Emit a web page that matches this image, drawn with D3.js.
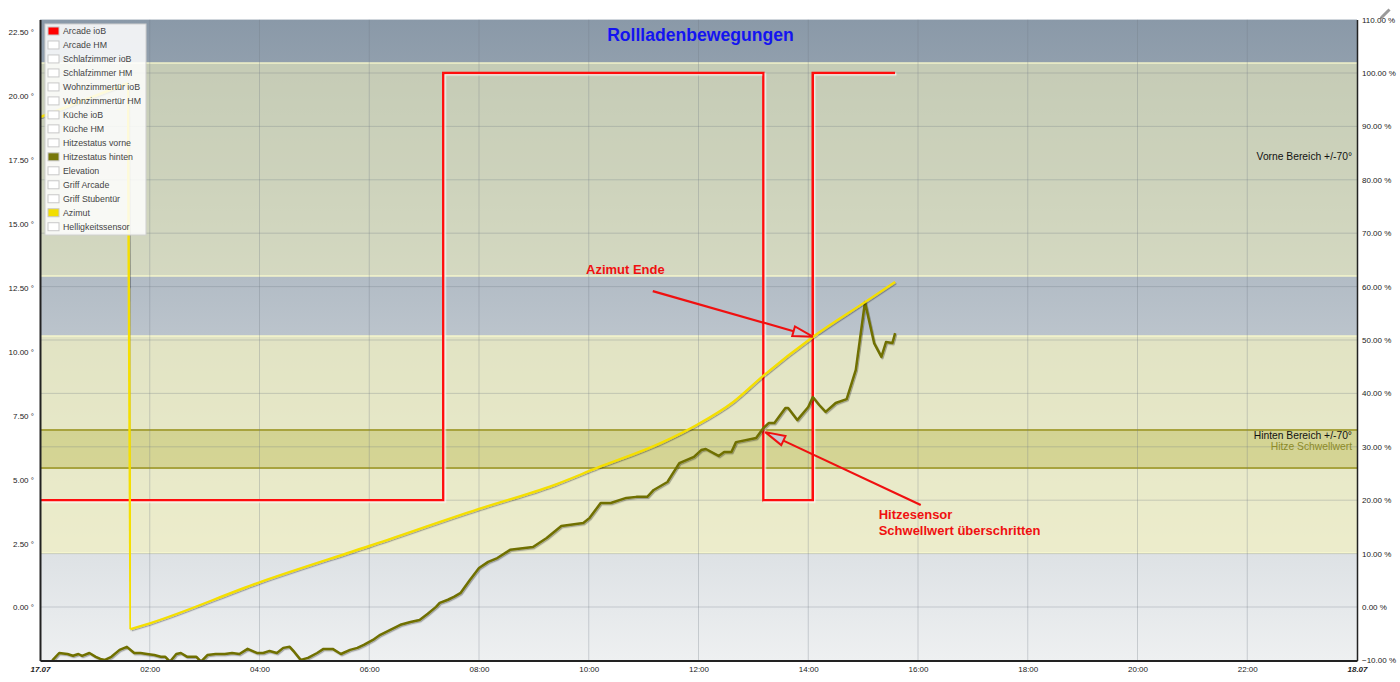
<!DOCTYPE html>
<html><head><meta charset="utf-8">
<script src="https://cdn.jsdelivr.net/npm/d3@7"></script>
<style>
body{margin:0;background:#fff;}
svg{display:block;font-family:"Liberation Sans",Arial,sans-serif;}
</style></head><body>
<svg id="chart" width="1400" height="682"></svg>
<script>
// ---------------- DATA ----------------
const chartTitle = "Rollladenbewegungen";
const leftTicks = [0, 2.5, 5, 7.5, 10, 12.5, 15, 17.5, 20, 22.5];
const rightTicks = [-10, 0, 10, 20, 30, 40, 50, 60, 70, 80, 90, 100, 110];
const xTickHours = [0, 2, 4, 6, 8, 10, 12, 14, 16, 18, 20, 22, 24];
const xTickLabels = ["17.07", "02:00", "04:00", "06:00", "08:00", "10:00", "12:00", "14:00", "16:00", "18:00", "20:00", "22:00", "18.07"];

const legendLabels = ["Arcade ioB", "Arcade HM", "Schlafzimmer ioB", "Schlafzimmer HM", "Wohnzimmertür ioB", "Wohnzimmertür HM", "Küche ioB", "Küche HM", "Hitzestatus vorne", "Hitzestatus hinten", "Elevation", "Griff Arcade", "Griff Stubentür", "Azimut", "Helligkeitssensor"];
const legendColors = ["#ff0000", null, null, null, null, null, null, null, null, "#77770a", null, null, null, "#f2de00", null];

// Arcade ioB (right axis, %), step after
const arcadeTimes = ["00:00", "07:21", "13:11", "14:05", "15:35"];
const arcadeValues = [20, 100, 20, 100, 100];

// Azimut (left axis units)
const azimutTimes = ["00:00", "01:36", "01:39", "02:00", "04:00", "06:00", "08:00", "09:22", "10:09", "11:19", "11:58", "12:38", "13:11", "14:05", "15:02", "15:35"];
const azimutValues = [19.16, 20.49, -0.85, -0.62, 0.98, 2.40, 3.85, 4.78, 5.45, 6.43, 7.13, 8.03, 9.06, 10.57, 11.93, 12.72];

// Hitzestatus hinten (left axis, °)
const hitzeTimes = ["00:05","00:14","00:21","00:30","00:36","00:42","00:46","00:54","01:01","01:06","01:11","01:18","01:27","01:35","01:43","01:50","01:57","02:05","02:12","02:17","02:22","02:29","02:34","02:41","02:51","02:56","03:03","03:12","03:22","03:30","03:38","03:47","03:57","04:04","04:11","04:19","04:26","04:33","04:38","04:45","04:53","05:03","05:10","05:20","05:29","05:39","05:47","05:54","06:04","06:12","06:23","06:34","06:45","06:55","07:04","07:13","07:17","07:26","07:33","07:40","07:50","08:00","08:10","08:20","08:34","08:59","09:14","09:22","09:30","09:54","10:01","10:13","10:24","10:41","10:52","11:04","11:11","11:26","11:39","11:55","12:03","12:08","12:22","12:28","12:36","12:41","13:03","13:11","13:17","13:23","13:35","13:38","13:48","14:00","14:05","14:12","14:19","14:30","14:42","14:52","15:02","15:12","15:20","15:25","15:32","15:35"];
const hitzeValues = [-2.5,-2.05,-1.78,-1.82,-1.89,-1.82,-1.89,-1.78,-1.93,-2.01,-2.05,-1.93,-1.66,-1.54,-1.78,-1.78,-1.82,-1.86,-1.93,-1.93,-2.12,-1.82,-1.78,-1.93,-1.93,-2.12,-1.86,-1.82,-1.82,-1.78,-1.82,-1.62,-1.78,-1.78,-1.70,-1.78,-1.58,-1.54,-1.74,-2.05,-1.97,-1.78,-1.62,-1.62,-1.82,-1.66,-1.58,-1.46,-1.27,-1.07,-0.88,-0.68,-0.57,-0.49,-0.25,0.02,0.18,0.30,0.42,0.57,1.07,1.54,1.78,1.93,2.25,2.36,2.71,2.95,3.18,3.30,3.50,4.08,4.08,4.28,4.32,4.32,4.59,4.90,5.64,5.88,6.15,6.19,5.92,6.07,6.07,6.46,6.62,7.01,7.21,7.21,7.79,7.79,7.32,7.83,8.22,7.91,7.64,7.99,8.14,9.28,11.93,10.33,9.79,10.37,10.33,10.72];

// Background bands (left axis units)
const bandNames = ["Vorne Bereich +/-70°", "Hinten Bereich +/-70°", "Hitze Schwellwert"];
const bandLows = [12.95, 2.13, 5.45];
const bandHighs = [21.27, 10.61, 6.93];

// Annotations (time, left-axis value)
const annoTexts = [["Azimut Ende"], ["Hitzesensor", "Schwellwert überschritten"]];
const annoTextAt = [["09:57", 13.02], ["15:17", 3.44]];
const annoTail = [["11:10", 12.36], ["16:03", 4.0]];
const annoTip = [["14:05", 10.58], ["13:13", 6.85]];

// ---------------- CHART ----------------
const M = {left: 40, right: 1357, top: 19.6, bottom: 660.4};
const svg = d3.select("#chart");
const base = new Date(2024, 6, 17);
const pt = s => { const [h, m] = s.split(":").map(Number); return new Date(base.getTime() + (h * 60 + m) * 60000); };
const x = d3.scaleTime().domain([base, new Date(2024, 6, 18)]).range([M.left, M.right]);
const yL = d3.scaleLinear().domain([-2.07, 22.97]).range([M.bottom, M.top]);
const yR = d3.scaleLinear().domain([-10, 110]).range([M.bottom, M.top]);

const defs = svg.append("defs");
const grad = defs.append("linearGradient").attr("id", "bg").attr("x1", 0).attr("y1", 0).attr("x2", 0).attr("y2", 1);
grad.append("stop").attr("offset", "0%").attr("stop-color", "#8a99a8");
grad.append("stop").attr("offset", "100%").attr("stop-color", "#eef0f1");
defs.append("clipPath").attr("id", "clip").append("rect")
  .attr("x", M.left).attr("y", M.top).attr("width", M.right - M.left).attr("height", M.bottom - M.top);
const fDark = defs.append("filter").attr("id", "shDark").attr("x", "-5%").attr("y", "-5%").attr("width", "110%").attr("height", "110%");
fDark.append("feDropShadow").attr("dx", 1).attr("dy", 1.2).attr("stdDeviation", 0.6).attr("flood-color", "#000").attr("flood-opacity", 0.3);
const fLight = defs.append("filter").attr("id", "shLight").attr("x", "-5%").attr("y", "-5%").attr("width", "110%").attr("height", "110%");
fLight.append("feDropShadow").attr("dx", 1.3).attr("dy", 1.3).attr("stdDeviation", 0.4).attr("flood-color", "#fff").attr("flood-opacity", 0.75);

// plot background
svg.append("rect").attr("x", M.left).attr("y", M.top).attr("width", M.right - M.left).attr("height", M.bottom - M.top).attr("fill", "url(#bg)");

// bands
const bandFills = ["rgba(240,240,190,0.55)", "rgba(243,241,192,0.68)", "rgba(170,165,30,0.30)"];
const bandEdges = ["rgba(250,250,205,0.9)", "rgba(250,250,205,0.9)", "#a8a33e"];
const gb = svg.append("g").attr("clip-path", "url(#clip)");
bandNames.forEach((n, i) => {
  gb.append("rect").attr("x", M.left).attr("width", M.right - M.left)
    .attr("y", yL(bandHighs[i])).attr("height", yL(bandLows[i]) - yL(bandHighs[i]))
    .attr("fill", bandFills[i]);
});

// grid
const gg = svg.append("g").attr("clip-path", "url(#clip)");
xTickHours.slice(1, -1).forEach(h => {
  const xx = x(new Date(base.getTime() + h * 3600000));
  gg.append("line").attr("x1", xx).attr("x2", xx).attr("y1", M.top).attr("y2", M.bottom)
    .attr("stroke", "#6f7a86").attr("stroke-opacity", 0.3).attr("stroke-width", 1);
});
rightTicks.slice(1, -1).forEach(v => {
  gg.append("line").attr("x1", M.left).attr("x2", M.right).attr("y1", yR(v)).attr("y2", yR(v))
    .attr("stroke", "#6f7a86").attr("stroke-opacity", 0.3).attr("stroke-width", 1);
});
// band edges
bandNames.forEach((n, i) => {
  [bandHighs[i], bandLows[i]].forEach(v => {
    gb.append("line").attr("x1", M.left).attr("x2", M.right).attr("y1", yL(v)).attr("y2", yL(v))
      .attr("stroke", bandEdges[i]).attr("stroke-width", i === 2 ? 2 : 1.5);
  });
});
// band labels
const bandLabelColors = ["#111", "#111", "#8c8a28"];
const bandLabelOffsets = [-9.5, -5, 0.5];
bandNames.forEach((n, i) => {
  svg.append("text").attr("x", M.right - 5).attr("y", yL((bandLows[i] + bandHighs[i]) / 2) + bandLabelOffsets[i])
    .attr("text-anchor", "end").attr("font-size", "10.3px").attr("fill", bandLabelColors[i]).text(n);
});

// series
const gs = svg.append("g").attr("clip-path", "url(#clip)");
const arcade = arcadeTimes.map((t, i) => [pt(t), arcadeValues[i]]);
gs.append("path").datum(arcade)
  .attr("d", d3.line().x(d => x(d[0])).y(d => yR(d[1])).curve(d3.curveStepAfter))
  .attr("fill", "none").attr("stroke", "#ff0a0a").attr("stroke-width", 2.6).attr("filter", "url(#shLight)");

const hitze = hitzeTimes.map((t, i) => [pt(t), hitzeValues[i]]);
gs.append("path").datum(hitze)
  .attr("d", d3.line().x(d => x(d[0])).y(d => yL(d[1])))
  .attr("fill", "none").attr("stroke", "#707000").attr("stroke-width", 2.5).attr("stroke-linejoin", "round")
  .attr("filter", "url(#shDark)");

const azi = azimutTimes.map((t, i) => [pt(t), azimutValues[i]]);
const aziSegs = [azi.slice(0, 2), azi.slice(1, 3), azi.slice(2)];
aziSegs.forEach((seg, k) => {
  gs.append("path").datum(seg)
    .attr("d", d3.line().x(d => x(d[0])).y(d => yL(d[1])).curve(k === 2 ? d3.curveMonotoneX : d3.curveLinear))
    .attr("fill", "none").attr("stroke", "#f5df00").attr("stroke-width", 2.4).attr("stroke-linejoin", "round")
    .attr("filter", "url(#shDark)");
});

// axes
const fmt2 = d3.format(".2f");
const axL = svg.append("g").attr("transform", `translate(${M.left},0)`)
  .call(d3.axisLeft(yL).tickValues(leftTicks).tickSize(0).tickPadding(6).tickFormat(d => fmt2(d) + " °"));
const axR = svg.append("g").attr("transform", `translate(${M.right},0)`)
  .call(d3.axisRight(yR).tickValues(rightTicks).tickSize(0).tickPadding(5).tickFormat(d => fmt2(d) + " %"));
const axB = svg.append("g").attr("transform", `translate(0,${M.bottom})`)
  .call(d3.axisBottom(x).tickValues(xTickHours.map(h => new Date(base.getTime() + h * 3600000)))
    .tickSize(0).tickPadding(6).tickFormat((d, i) => xTickLabels[i]));
[axL, axR, axB].forEach(a => {
  a.selectAll("text").attr("font-size", "8px").attr("fill", "#222").attr("font-family", "'Liberation Sans',Arial,sans-serif");
  a.select(".domain").attr("stroke", "#222");
});
axL.select(".domain").attr("stroke-width", 2);
axB.select(".domain").attr("stroke-width", 2);
axR.select(".domain").attr("stroke-width", 1.5);
axB.selectAll("text").filter((d, i) => i === 0 || i === xTickLabels.length - 1)
  .attr("font-weight", "bold").attr("font-style", "italic");

// title
svg.append("text").attr("x", (M.left + M.right) / 2 + 2).attr("y", 41).attr("text-anchor", "middle")
  .attr("font-size", "17.6px").attr("font-weight", "bold").attr("fill", "#1414f0").text(chartTitle);

// annotations
const ga = svg.append("g");
annoTexts.forEach((lines, i) => {
  const tx = x(pt(annoTextAt[i][0])), ty = yL(annoTextAt[i][1]);
  lines.forEach((l, j) => {
    ga.append("text").attr("x", tx).attr("y", ty + j * 15.7).attr("font-size", "13px").attr("font-weight", "bold")
      .attr("fill", "#f01010").text(l);
  });
  const x0 = x(pt(annoTail[i][0])), y0 = yL(annoTail[i][1]);
  const x1 = x(pt(annoTip[i][0])), y1 = yL(annoTip[i][1]);
  const dx = x1 - x0, dy = y1 - y0, len = Math.hypot(dx, dy), ux = dx / len, uy = dy / len;
  const bx = x1 - 20 * ux, by = y1 - 20 * uy;
  ga.append("line").attr("x1", x0).attr("y1", y0).attr("x2", bx).attr("y2", by)
    .attr("stroke", "#f01010").attr("stroke-width", 2.2);
  ga.append("path").attr("d", `M${x1},${y1}L${bx - 5 * uy},${by + 5 * ux}L${bx + 5 * uy},${by - 5 * ux}Z`)
    .attr("fill", "#c4c8d2").attr("stroke", "#f01010").attr("stroke-width", 2).attr("stroke-linejoin", "miter");
});

// legend
const lg = svg.append("g");
lg.append("rect").attr("x", 45).attr("y", 24).attr("width", 101).attr("height", 211)
  .attr("fill", "rgba(255,255,255,0.85)").attr("stroke", "#cfcfcf").attr("stroke-width", 1);
legendLabels.forEach((l, i) => {
  const cy = 31 + i * 13.98;
  lg.append("rect").attr("x", 48).attr("y", cy - 4).attr("width", 11).attr("height", 8)
    .attr("fill", legendColors[i] || "#fff").attr("stroke", "#c8c8c8").attr("stroke-width", 1);
  lg.append("text").attr("x", 63).attr("y", cy + 3.3).attr("font-size", "8.8px").attr("fill", "#444").text(l);
});

// pencil icon
const pg = svg.append("g").attr("transform", "translate(1386,13) rotate(-45)");
pg.append("rect").attr("x", -6).attr("y", -1.5).attr("width", 11).attr("height", 3).attr("fill", "#9a9a9a");
pg.append("path").attr("d", "M-6,-1.5L-9,0L-6,1.5Z").attr("fill", "#777");
</script>
</body></html>
